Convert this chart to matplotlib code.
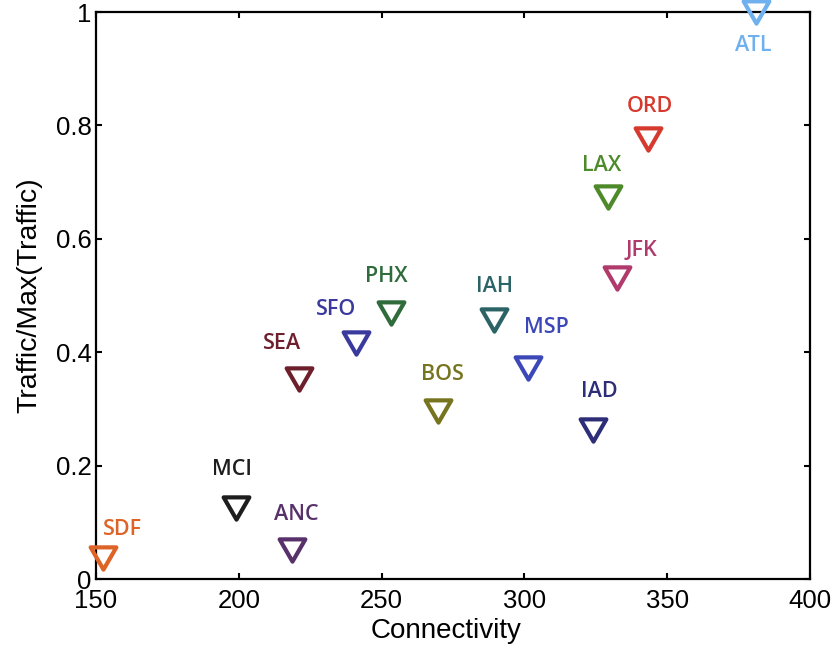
import numpy as np
import matplotlib
matplotlib.use("Agg")
import matplotlib.pyplot as plt
from matplotlib.path import Path

# airport connectivity vs normalised traffic
airports = ["SDF", "MCI", "ANC", "SEA", "SFO", "PHX", "BOS",
            "IAH", "MSP", "IAD", "JFK", "LAX", "ORD", "ATL"]
connectivity = [152.5, 199.1, 218.7, 221.0, 241.2, 253.4, 269.9,
                289.2, 301.1, 323.9, 332.3, 329.2, 343.2, 381.0]
traffic = [0.037, 0.125, 0.051, 0.353, 0.416, 0.469, 0.296,
           0.457, 0.372, 0.263, 0.531, 0.674, 0.776, 1.0]

colors = ["#DD6326", "#1E1E1E", "#58306A", "#6E1F2C", "#3A3A9E", "#2F6B3B", "#76741F",
          "#2C6466", "#3C48B8", "#2D2D78", "#B03A6C", "#4E8A2A", "#D63A2E", "#6FB0EE"]

# label offsets from the marker, in pixels (right, up)
label_offsets = [(19, 29), (-4, 39), (4, 36), (-17, 35), (-20, 34), (-5, 37), (4, 37),
                 (1, 33), (19, 41), (7, 38), (25, 27), (-6, 31), (2, 33), (-2, -33)]

# equilateral triangle pointing down
tri = Path([(-1, 0.866), (1, 0.866), (0, -0.866), (-1, 0.866)],
           [Path.MOVETO, Path.LINETO, Path.LINETO, Path.CLOSEPOLY])

plt.rcParams["font.family"] = ["Liberation Sans", "DejaVu Sans"]

fig = plt.figure(figsize=(8.38, 6.54), dpi=100)
ax = fig.add_axes([0.1146, 0.1146, 0.8520, 0.8670])

for x, y, c, name, off in zip(connectivity, traffic, colors, airports, label_offsets):
    ax.plot(x, y, linestyle="none", marker=tri, markersize=18.5,
            markerfacecolor="none", markeredgecolor=c, markeredgewidth=3.0,
            clip_on=False, zorder=3)
    ax.annotate(name, (x, y), xytext=off, textcoords="offset pixels",
                ha="center", va="center", color=c, fontsize=15.5,
                family=["Open Sans", "DejaVu Sans"], fontweight="semibold",
                annotation_clip=False)

ax.set_xlim(150, 400)
ax.set_ylim(0, 1)
ax.set_xticks([150, 200, 250, 300, 350, 400])
ax.set_yticks([0, 0.2, 0.4, 0.6, 0.8, 1])
ax.set_yticklabels(["0", "0.2", "0.4", "0.6", "0.8", "1"])

ax.tick_params(direction="in", length=4.5, width=1.5, labelsize=18.5,
               top=True, right=True)
ax.tick_params(axis="x", pad=7)
ax.tick_params(axis="y", pad=3)
for sp in ax.spines.values():
    sp.set_linewidth(1.6)

ax.set_xlabel("Connectivity", fontsize=20, labelpad=2)
ax.xaxis.set_label_coords(0.49, -0.068)
ax.set_ylabel("Traffic/Max(Traffic)", fontsize=20.5, labelpad=10)

fig.savefig("out.png", dpi=100)
